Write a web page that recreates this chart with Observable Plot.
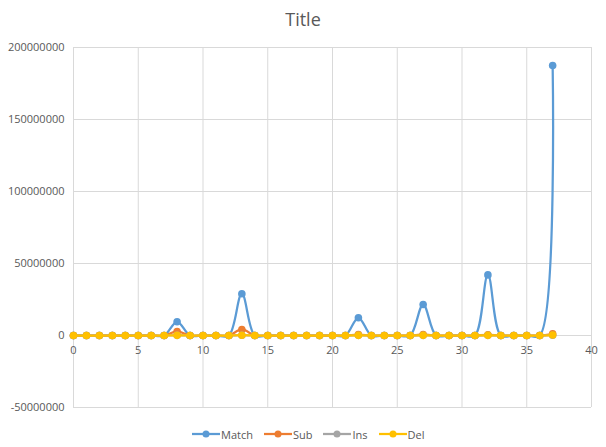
<!DOCTYPE html>
<html>
<head>
<meta charset="utf-8">
<script src="https://cdn.jsdelivr.net/npm/d3@7"></script>
<script src="https://cdn.jsdelivr.net/npm/@observablehq/plot@0.6"></script>
<style>
  html, body { margin: 0; padding: 0; background: #fff; }
  body { width: 606px; height: 447px; overflow: hidden; font-family: "Open Sans", sans-serif; }
  #title { height: 36px; line-height: 38px; text-align: center; font-size: 18px; color: #595959; }
  #chart svg { display: block; }
  #legend { height: 26px; display: flex; justify-content: flex-start; padding-left: 192px; align-items: center; gap: 11px; font-size: 11px; color: #595959; }
  .item { display: flex; align-items: center; gap: 1px; }
</style>
</head>
<body>
<div id="title">Title</div>
<div id="chart"></div>
<div id="legend"></div>
<script>
const xs = [0,1,2,3,4,5,6,7,8,9,10,11,12,13,14,15,16,17,18,19,20,21,22,23,24,25,26,27,28,29,30,31,32,33,34,35,36,37];
const matchVals = [0,0,0,0,0,0,0,0,9500000,0,0,0,0,29000000,0,0,0,0,0,0,0,0,12300000,0,0,0,0,21500000,0,0,0,0,42100000,0,0,0,0,187500000];
const subVals   = [0,0,0,0,0,0,0,0,2800000,0,0,0,0,4200000,0,0,0,0,0,0,0,0,600000,0,0,0,0,700000,0,0,0,0,500000,0,0,0,0,1200000];
const insVals   = [0,0,0,0,0,0,0,0,100000,0,0,0,0,200000,0,0,0,0,0,0,0,0,100000,0,0,0,0,100000,0,0,0,0,100000,0,0,0,0,200000];
const delVals   = [0,0,0,0,0,0,0,0,100000,0,0,0,0,200000,0,0,0,0,0,0,0,0,100000,0,0,0,0,100000,0,0,0,0,100000,0,0,0,0,300000];
const seriesNames = ["Match", "Sub", "Ins", "Del"];
const seriesColors = ["#5B9BD5", "#ED7D31", "#A5A5A5", "#FFC000"];
const xTicks = [0,5,10,15,20,25,30,35,40];
const yTicks = [-50000000,0,50000000,100000000,150000000,200000000];

const valuesBySeries = [matchVals, subVals, insVals, delVals];
const data = [];
seriesNames.forEach((s, i) => valuesBySeries[i].forEach((v, j) => data.push({series: s, x: xs[j], y: v})));

const marks = [
  Plot.gridX(xTicks, {stroke: "#d9d9d9", strokeOpacity: 1}),
  Plot.gridY(yTicks, {stroke: "#d9d9d9", strokeOpacity: 1}),
  Plot.axisY(yTicks, {tickSize: 0, tickPadding: 9, tickFormat: d => String(d), fontSize: 11, fill: "#595959", label: null}),
  Plot.text(xTicks, {x: d => d, y: 0, dy: 15, text: d => String(d), fontSize: 11, fill: "#595959"})
];
seriesNames.forEach((s, i) => {
  const rows = data.filter(d => d.series === s);
  marks.push(Plot.line(rows, {x: "x", y: "y", stroke: seriesColors[i], strokeWidth: 2.25, curve: "catmull-rom"}));
  marks.push(Plot.dot(rows, {x: "x", y: "y", fill: seriesColors[i], r: 3.8, stroke: "none"}));
});

const chart = Plot.plot({
  width: 606,
  height: 385,
  marginTop: 11,
  marginBottom: 14,
  marginLeft: 73,
  marginRight: 15,
  style: {fontFamily: "Open Sans, sans-serif", background: "#fff"},
  x: {domain: [0, 40], axis: null},
  y: {domain: [-50000000, 200000000], axis: null},
  marks
});
document.getElementById("chart").appendChild(chart);

const legend = document.getElementById("legend");
seriesNames.forEach((s, i) => {
  const item = document.createElement("div");
  item.className = "item";
  item.innerHTML = `<svg width="28" height="10"><line x1="0" y1="5" x2="28" y2="5" stroke="${seriesColors[i]}" stroke-width="2.25"/><circle cx="14" cy="5" r="3.5" fill="${seriesColors[i]}"/></svg><span>${s}</span>`;
  legend.appendChild(item);
});
</script>
</body>
</html>
